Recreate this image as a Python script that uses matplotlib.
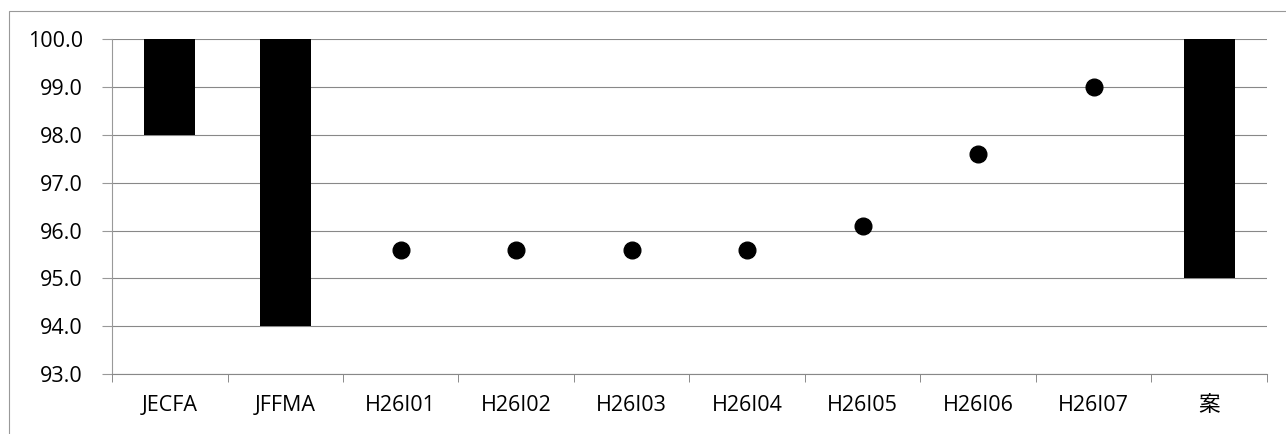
import numpy as np
import matplotlib.pyplot as plt
from matplotlib.patches import Rectangle

plt.rcParams['font.family'] = ['Open Sans', 'Noto Sans CJK JP', 'DejaVu Sans']

categories = ["JECFA", "JFFMA", "H26I01", "H26I02", "H26I03", "H26I04",
              "H26I05", "H26I06", "H26I07", "案"]

# range bars (upper / lower limits)
bar_idx = [0, 1, 9]
bar_top = [100.0, 100.0, 100.0]
bar_low = [98.0, 94.0, 95.0]

# single values
point_idx = [2, 3, 4, 5, 6, 7, 8]
point_val = [95.6, 95.6, 95.6, 95.6, 96.1, 97.6, 99.0]

fig = plt.figure(figsize=(12.86, 4.34), dpi=100)
fig.patches.append(Rectangle((9 / 1286, -0.01), 1.0, 1 - 11 / 434 + 0.01,
                             transform=fig.transFigure, fill=False,
                             edgecolor="#999999", lw=0.8))
ax = fig.add_axes([0.0871, 0.138, 0.8981, 0.772])

heights = np.array(bar_top) - np.array(bar_low)
ax.bar(bar_idx, heights, bottom=bar_low, width=0.44, color="black", zorder=3)
ax.plot(point_idx, point_val, "o", color="black", ms=12, zorder=3)

ax.set_xlim(-0.5, 9.5)
ax.set_ylim(93, 100)
ax.set_yticks(np.arange(93, 100.1, 1))
ax.set_yticklabels([f"{v:.1f}" for v in np.arange(93, 100.1, 1)], fontsize=15.5)
ax.set_xticks(range(len(categories)))
ax.set_xticklabels(categories, fontsize=15.5)
ax.set_xticks(np.arange(-0.5, 10, 1), minor=True)
ax.tick_params(axis="x", which="major", length=0, pad=15)
ax.tick_params(axis="x", which="minor", length=6, color="#777777")
ax.tick_params(axis="y", length=7, color="#999999", pad=14)

ax.grid(axis="y", color="#888888", lw=0.8, zorder=0)
for s in ["top", "right"]:
    ax.spines[s].set_visible(False)
ax.spines["left"].set_color("#999999")
ax.spines["bottom"].set_color("#888888")

fig.savefig("out.png", dpi=100)
